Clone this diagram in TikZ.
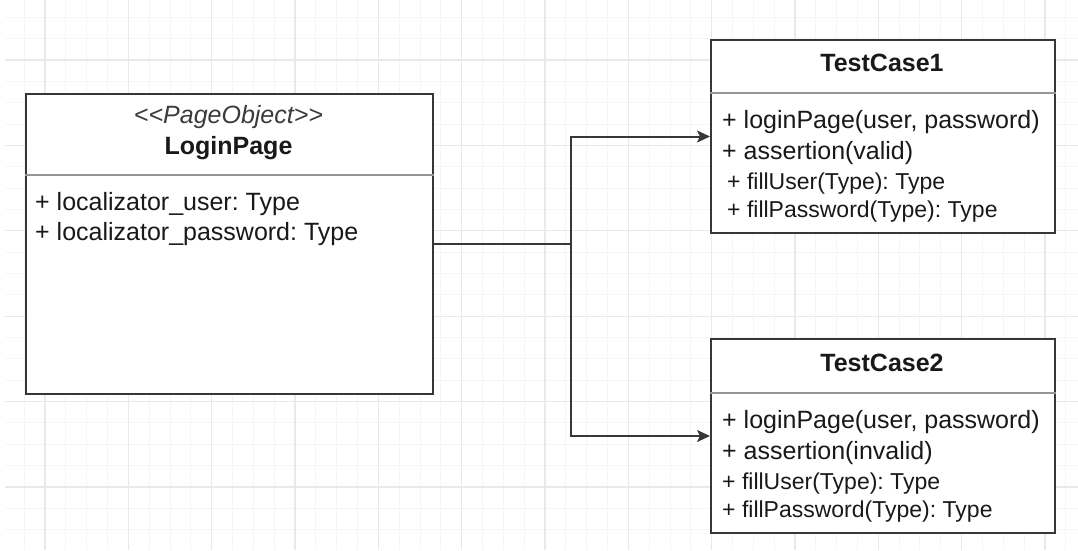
\documentclass[tikz,border=0pt]{standalone}
\usepackage{fontspec}
\setmainfont{Liberation Sans}[Ligatures=TeXOff]
\usetikzlibrary{arrows.meta}
\definecolor{edgecol}{RGB}{55,55,55}
\definecolor{rulecol}{RGB}{150,150,150}
\definecolor{gridminorcol}{RGB}{245,245,245}
\definecolor{gridmajorcol}{RGB}{233,233,233}
\definecolor{textcol}{RGB}{25,25,25}
\frenchspacing

\begin{document}
\begin{tikzpicture}[x=1pt,y=-1pt,
  umlbox/.style={draw=edgecol, line width=2pt, fill=white, inner sep=0pt, anchor=north west},
  umlrule/.style={draw=rulecol, line width=1.3pt},
  umltitle/.style={font=\fontsize{25}{30}\selectfont\bfseries, inner sep=0pt, text=textcol},
  umlstereo/.style={font=\fontsize{25}{30}\selectfont\itshape, inner sep=0pt, text=textcol!85},
  umlmember/.style={font=\fontsize{25}{30}\selectfont, inner sep=0pt, anchor=west, text=textcol},
  umlsmall/.style={font=\fontsize{23}{28}\selectfont, inner sep=0pt, anchor=west, text=textcol},
  umlconn/.style={draw=edgecol, line width=2pt},
  umlarrow/.style={-{Stealth[length=13pt,width=12pt,inset=3pt]}},
  gridminor/.style={draw=gridminorcol, line width=1pt},
  gridmajor/.style={draw=gridmajorcol, line width=1.2pt}
]
\useasboundingbox (0,0) rectangle (1078,550);

% background grid
\foreach \k in {-1,...,49}
  \draw[gridminor] ({45+\k*20.833},0) -- ({45+\k*20.833},550);
\foreach \k in {-2,...,22}
  \draw[gridminor] (5,{60+\k*21.35}) -- (1078,{60+\k*21.35});
\foreach \k in {0,...,12}
  \draw[gridmajor] ({45+\k*83.33},0) -- ({45+\k*83.33},550);
\foreach \k in {0,...,5}
  \draw[gridmajor] (5,{60+\k*85.4}) -- (1078,{60+\k*85.4});

% page object class
\node[umlbox, minimum width=407pt, minimum height=300pt] (login) at (25,93) {};
\draw[umlrule] ([yshift=-82pt]login.north west) -- ([yshift=-82pt]login.north east);
\node[umlstereo] (loginstereo) at (228.5,117) {<<PageObject>>};
\node[umltitle] (loginname) at (228.5,148) {LoginPage};
\node[umlmember] (loginuser) at (35,204) {+ localizator\_user: Type};
\node[umlmember] (loginpass) at (35,234) {+ localizator\_password: Type};

% first test case
\node[umlbox, minimum width=344pt, minimum height=193pt] (tc1) at (710,39) {};
\draw[umlrule] ([yshift=-54pt]tc1.north west) -- ([yshift=-54pt]tc1.north east);
\node[umltitle] (tc1name) at (882,63) {TestCase1};
\node[umlmember] (tc1login) at (722,122) {+ loginPage(user, password)};
\node[umlmember] (tc1assert) at (722,153) {+ assertion(valid)};
\node[umlsmall] (tc1user) at (727,184) {+ fillUser(Type): Type};
\node[umlsmall] (tc1pass) at (727,212) {+ fillPassword(Type): Type};

% second test case
\node[umlbox, minimum width=344pt, minimum height=194pt] (tc2) at (710,338) {};
\draw[umlrule] ([yshift=-55pt]tc2.north west) -- ([yshift=-55pt]tc2.north east);
\node[umltitle] (tc2name) at (882,363) {TestCase2};
\node[umlmember] (tc2login) at (722,422) {+ loginPage(user, password)};
\node[umlmember] (tc2assert) at (722,453) {+ assertion(invalid)};
\node[umlsmall] (tc2user) at (722,484) {+ fillUser(Type): Type};
\node[umlsmall] (tc2pass) at (722,512) {+ fillPassword(Type): Type};

% connectors
\coordinate (split) at (571,243);
\draw[umlconn] (login.east) -- (login.east -| split);
\draw[umlconn, umlarrow] (login.east -| split) |- (tc1.west);
\draw[umlconn, umlarrow] (login.east -| split) |- (tc2.west);
\end{tikzpicture}
\end{document}
